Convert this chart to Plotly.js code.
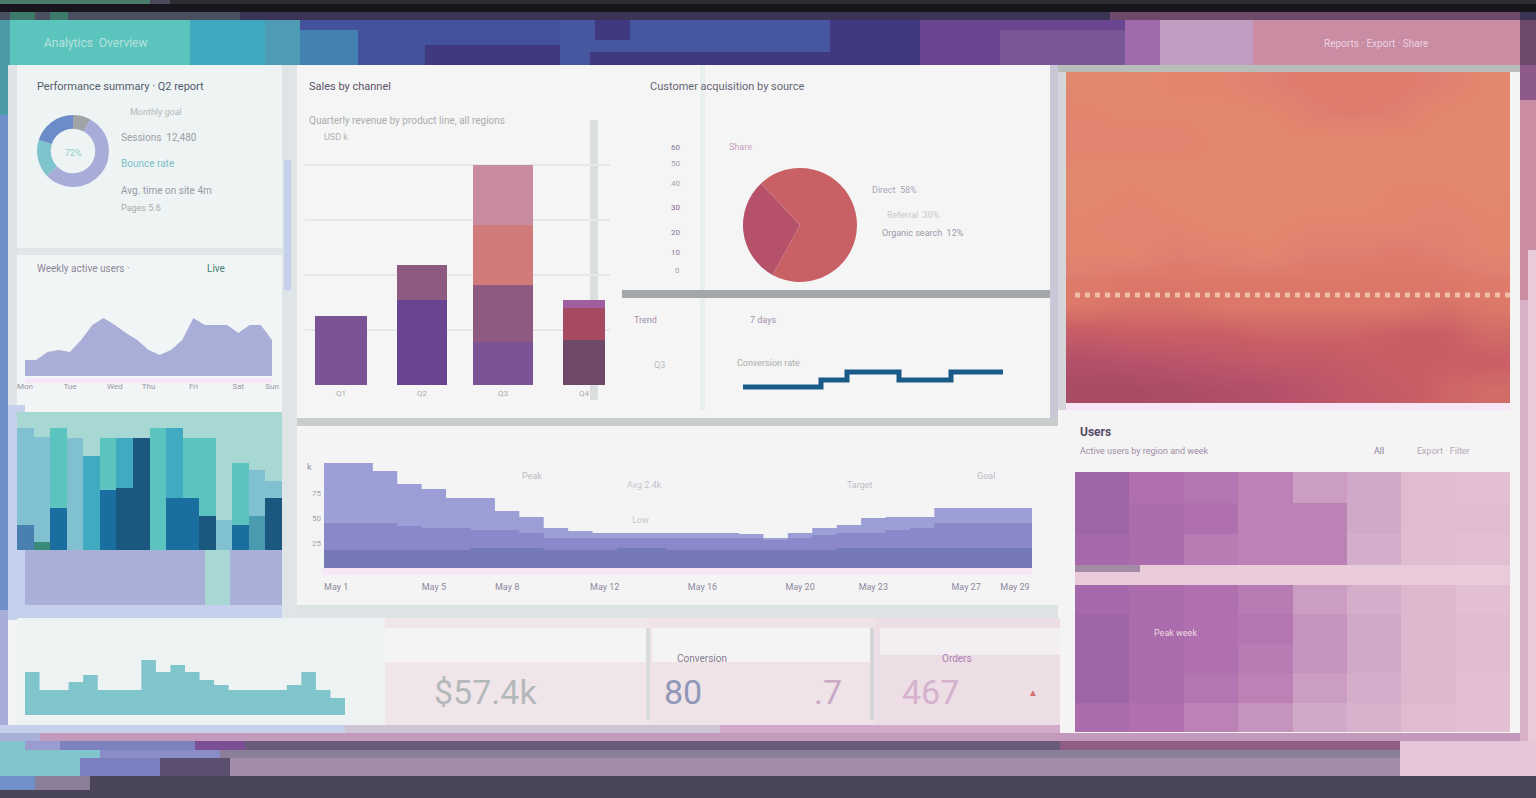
<!DOCTYPE html>
<html><head><meta charset="utf-8">
<script src="https://cdn.plot.ly/plotly-3.0.1.min.js"></script>
<style>html,body{margin:0;padding:0;background:#f4f4f4;overflow:hidden}#chart{width:1536px;height:798px}</style>
</head><body><div id="chart"></div>
<script>
// ---------------- DATA ----------------
const donutLabels = ['Other', 'Returning', 'Referral', 'New'];
const donutValues = [8, 55, 17, 20];

const weekDays = ['Mon', 'Tue', 'Wed', 'Thu', 'Fri', 'Sat', 'Sun'];
const weeklyUsers = [16,16,24,26,24,36,51,58,51,43,36,26,21,26,36,58,51,51,51,43,51,51,36];

const weeks = ['W1','W2','W3','W4','W5','W6','W7','W8','W9','W10','W11','W12','W13','W14','W15','W16'];
const sessionsTotal = [122,113,122,112,94,112,112,112,122,122,112,112,30,87,80,69];
const sessionsNew   = [25,8,42,0,0,60,62,0,0,52,52,34,0,25,34,52];

const quarters = ['Q1','Q2','Q3','Q4'];
const salesOnline    = [69, 85, 43, 45];
const salesRetail    = [0, 35, 57, 32];
const salesWholesale = [0, 0, 60, 8];
const salesPartners  = [0, 0, 60, 0];

const sourceLabels = ['Direct', 'Referral', 'Organic search'];
const sourceValues = [58, 30, 12];

const convPeriods = ['D1','D2','D3','D4','D5','D6','D7','D8','D9','D10','D11'];
const convRate = [5,5,5,12,20,20,12,12,20,20,20];

const trafficDays = ['May 1','May 5','May 8','May 12','May 16','May 20','May 23','May 27','May 29'];
const trafficTotal = [105,105,97,84,79,70,70,57,51,40,37,35,35,35,35,35,35,34,30,35,40,43,50,51,51,60,60,60,60,60];
const trafficMid   = [45,45,45,42,40,40,38,38,35,30,30,30,30,30,30,30,30,30,28,30,33,35,35,38,40,45,45,45,45,45];
const trafficLow   = [18,18,18,18,18,18,20,20,20,18,18,18,20,20,18,18,18,18,18,18,18,20,20,20,20,20,20,20,20,20];

const dailyVisits = [43,25,25,33,40,25,25,25,55,43,50,43,35,30,25,25,25,25,30,43,25,17,17];

const forecastZ = [
  [0.05,0.05,0.10,0.10,0.20,0.25,0.25,0.25,0.20,0.05],
  [0.10,0.05,0.05,0.05,0.05,0.20,0.25,0.20,0.05,0.05],
  [0.15,0.15,0.15,0.05,0.05,0.05,0.05,0.05,0.05,0.05],
  [0.05,0.05,0.05,0.05,0.05,0.05,0.05,0.05,0.05,0.05],
  [0.05,0.10,0.05,0.05,0.05,0.05,0.05,0.10,0.10,0.05],
  [0.10,0.15,0.10,0.05,0.05,0.10,0.10,0.10,0.15,0.10],
  [0.10,0.10,0.20,0.15,0.10,0.20,0.20,0.25,0.20,0.10],
  [0.25,0.30,0.30,0.30,0.30,0.30,0.30,0.30,0.30,0.25],
  [0.30,0.35,0.35,0.30,0.30,0.30,0.30,0.30,0.35,0.30],
  [0.55,0.50,0.50,0.50,0.45,0.45,0.45,0.50,0.50,0.40],
  [0.80,0.75,0.70,0.65,0.60,0.60,0.55,0.50,0.50,0.50],
  [0.95,0.95,0.90,0.85,0.80,0.70,0.60,0.55,0.45,0.40]
];
const usersZ1 = [
  [1.00,0.85,0.80,0.70,0.55,0.50,0.30,0.25],
  [1.00,0.90,0.85,0.70,0.70,0.50,0.30,0.30],
  [0.95,0.90,0.75,0.70,0.70,0.45,0.30,0.25]
];
const usersZ2 = [
  [0.95,0.90,0.85,0.75,0.55,0.45,0.35,0.25],
  [1.00,0.90,0.85,0.80,0.60,0.50,0.35,0.30],
  [1.00,0.90,0.85,0.75,0.60,0.50,0.35,0.30],
  [1.00,0.90,0.80,0.70,0.55,0.45,0.35,0.25],
  [0.90,0.85,0.70,0.60,0.50,0.40,0.30,0.25]
];

// ---------------- HELPERS ----------------
const W = 1536, H = 798;
const dx = (a, b) => [a / W, b / W];
const dy = (top, bottom) => [1 - bottom / H, 1 - top / H];
const idx = arr => arr.map((_, i) => i);
const hidden = (domain, range, extra) => Object.assign({domain, range, visible: false, fixedrange: true}, extra || {});

// decorative panel blocks (layout, px): x0,y0,x1,y1,color
const blocks = [
  [0,0,1536,4,'#2c2e34'],[0,0,150,4,'#4a7a6a'],[150,0,170,4,'#4a4a5a'],
  [0,4,1536,12,'#18161c'],
  [0,12,1536,20,'#3b3456'],[0,12,240,20,'#4a5060'],[10,12,35,20,'#3e7a6a'],[50,12,68,20,'#3e7a6a'],[1110,12,1520,20,'#6e4a6a'],
  [0,20,1536,65,'#44529e'],
  [0,20,10,65,'#4a9aa8'],[10,20,190,65,'#5bc4bd'],[190,20,265,65,'#3faabf'],[265,20,300,65,'#4d9cb4'],
  [300,30,358,65,'#4382b0'],[425,45,560,65,'#3f3a80'],[560,20,830,65,'#4656a0'],
  [595,20,630,40,'#3f3a80'],[590,52,840,65,'#3f3a80'],[830,20,920,65,'#3f3a80'],[920,20,1050,65,'#6a4592'],
  [1050,20,1125,65,'#6a4592'],[1000,30,1125,65,'#7a5898'],[1125,20,1160,65,'#a06aac'],[1160,20,1253,65,'#c09cc0'],[1253,20,1520,65,'#c98ca2'],[1520,20,1536,65,'#6e4a6a'],
  [0,65,8,115,'#4a9aa8'],[0,115,8,610,'#6e90c8'],[0,610,8,740,'#a8acd8'],
  [8,65,17,620,'#dde3e6'],
  [17,66,282,248,'#eef3f3'],[17,248,282,255,'#dfe5e8'],[17,255,282,405,'#f2f5f5'],
  [8,405,25,620,'#c4d0ec'],
  [17,412,282,550,'#a8d8d4'],
  [25,550,205,605,'#a9b0d8'],[205,550,230,605,'#a8d8d4'],[230,550,282,605,'#a9b0d8'],
  [8,605,297,618,'#c4d0ec'],
  [282,65,297,620,'#dfe4e6'],[284,160,291,290,'#c4d0ec'],
  [297,65,1050,418,'#f5f5f5'],[1050,65,1058,420,'#cbc6d6'],[297,418,1058,426,'#c9cdcc'],
  [590,120,598,400,'#dadede'],[700,65,705,410,'#e9eeee'],[622,290,1050,298,'#a3a7aa'],
  [297,605,1058,618,'#dde2e4'],
  [322,568,1032,575,'#f7e6f7'],[25,378,272,383,'#f7e6f7'],
  [17,618,385,725,'#edf3f3'],[0,725,345,741,'#c4d0ec'],
  [385,618,650,725,'#f0e6ea'],[385,628,650,662,'#f4f4f4'],
  [650,618,875,725,'#efe3e8'],[652,628,870,662,'#f4f4f4'],
  [875,618,1060,725,'#eddde4'],[880,628,1060,655,'#f3eef2'],
  [646,628,650,720,'#d8dcdc'],[870,628,874,720,'#d4d4da'],
  [345,725,1060,733,'#cfc4d4'],[720,725,1060,733,'#d4aacb'],
  [0,733,40,741,'#a9b0d8'],[40,733,1536,741,'#c39abb'],
  [0,741,1536,750,'#6a5a7a'],[0,741,110,750,'#80c4cc'],[25,741,60,750,'#9a9ccf'],[60,741,195,750,'#7b82bd'],[195,741,245,750,'#7a4f94'],[1060,741,1400,750,'#8f5c84'],
  [0,750,1536,758,'#8a7e98'],[0,750,100,758,'#80c4cc'],[100,750,220,758,'#8a8cc8'],
  [0,758,1536,776,'#a28ca9'],[0,758,80,776,'#80c4cc'],[80,758,160,776,'#7a80c0'],[160,758,230,776,'#5c4e6e'],
  [1400,741,1536,776,'#e4c6d8'],
  [0,776,1536,798,'#4a4657'],[0,776,35,790,'#7090c8'],[35,776,90,790,'#8a7e98'],
  [1058,65,1520,72,'#b9bdba'],[1058,72,1066,410,'#d4d6da'],[1510,72,1520,410,'#f4f4f4'],
  [1520,65,1536,100,'#8e5a8a'],[1520,100,1536,300,'#c98ca2'],[1520,300,1536,741,'#d8b0c8'],[1528,250,1536,741,'#e8cad8'],
  [1066,403,1510,410,'#f6e6f6'],
  [1060,410,1520,725,'#f4f4f4'],
  [1075,565,1510,585,'#e8cad8'],[1075,565,1140,572,'#a38ba6'],
  [1075,117,1270,124,'#f1b9a1'],[1305,117,1400,124,'#f1b9a1'],[1085,160,1135,167,'#f1b9a1'],[1150,160,1230,167,'#eba68a'],
  [1494,152,1500,272,'#f2bca6']
];
const shapes = blocks.map(b => ({type:'rect', xref:'paper', yref:'paper', layer:'below',
  x0:b[0]/W, x1:b[2]/W, y0:1-b[3]/H, y1:1-b[1]/H, fillcolor:b[4], line:{width:0}}));
shapes.push({type:'line', xref:'paper', yref:'paper', x0:1075/W, x1:1510/W, y0:1-295/H, y1:1-295/H,
  line:{color:'#f2bca6', width:5, dash:'dot'}, layer:'above'});

// text labels (px): text, x, y, color, size, anchor, bold
const labels = [
  ['Analytics  Overview', 42, 43, '#b6e2de', 12],
  ['Reports · Export · Share', 1322, 43, '#ecd2e2', 10],
  ['Performance summary · Q2 report', 35, 86, '#545c6c', 11],
  ['Monthly goal', 128, 112, '#b4bab8', 9],
  ['Sessions  12,480', 119, 138, '#9aa0a4', 10],
  ['Bounce rate', 119, 163, '#7cbfca', 10],
  ['Avg. time on site 4m', 119, 190, '#9c9aa8', 10],
  ['Pages 5.6', 119, 208, '#a8acac', 9],
  ['72%', 73, 153, '#8fcfca', 9, 'center'],
  ['Weekly active users ·', 35, 268, '#8c889a', 10],
  ['Live', 205, 268, '#3f7f70', 10],
  ['Sales by channel', 307, 86, '#5a5468', 11],
  ['Customer acquisition by source', 648, 86, '#666674', 11],
  ['Quarterly revenue by product line, all regions', 307, 120, '#a9adab', 10],
  ['USD k', 322, 137, '#b0b4b0', 9],
  ['Share', 727, 147, '#c8a0c4', 9],
  ['60', 682, 147, '#8a7898', 8, 'right'], ['50', 682, 163, '#a8a4b0', 8, 'right'], ['40', 682, 183, '#a8a4b0', 8, 'right'],
  ['30', 682, 207, '#8a6090', 8, 'right'], ['20', 682, 233, '#8a7898', 8, 'right'], ['10', 682, 252, '#8a7898', 8, 'right'],
  ['0', 682, 270, '#a0a4a0', 8, 'right'],
  ['Direct  58%', 870, 190, '#aaa6b8', 9],
  ['Referral  30%', 885, 215, '#c4c8cc', 9],
  ['Organic search  12%', 880, 233, '#9c9aaa', 9],
  ['Trend', 632, 320, '#a08fa8', 9], ['7 days', 748, 320, '#a08fa8', 9],
  ['Q3', 652, 365, '#b8bcb8', 9], ['Conversion rate', 735, 363, '#aaaea8', 9],
  ['k', 305, 467, '#938fa5', 9],
  ['Peak', 520, 476, '#c0bcc8', 9], ['Avg 2.4k', 625, 485, '#c8c4d0', 9], ['Low', 630, 520, '#c8c4d0', 9],
  ['Target', 845, 485, '#c0bcc8', 9], ['Goal', 975, 476, '#c0bcc8', 9],
  ['Conversion', 675, 658, '#877a90', 10],
  ['Orders', 940, 658, '#ad80b5', 10],
  ['$57.4k', 432, 692, '#b3b9bb', 34],
  ['80', 662, 692, '#8f98b8', 34],
  ['.7', 812, 692, '#c9a9c6', 34],
  ['467', 900, 692, '#d4b2cd', 34],
  ['▲', 1026, 692, '#d27070', 10],
  ['Users', 1078, 432, '#584a68', 12, 'left', true],
  ['Active users by region and week', 1078, 451, '#a08aa8', 9],
  ['All', 1372, 451, '#8e8098', 9], ['Export · Filter', 1415, 451, '#b8a8b8', 9],
  ['Peak week', 1152, 633, '#f0dae4', 9]
];
const annotations = labels.map(l => ({xref:'paper', yref:'paper', x:l[1]/W, y:1-l[2]/H,
  xanchor: l[5] || 'left', yanchor:'middle', showarrow:false,
  text: l[6] ? '<b>' + l[0] + '</b>' : l[0], font:{size:l[4], color:l[3]}}));

// ---------------- TRACES ----------------
const cum2 = salesOnline.map((v, i) => v + salesRetail[i]);
const cum3 = cum2.map((v, i) => v + salesWholesale[i]);
const barW = [0.63, 0.62, 0.74, 0.52];

const traces = [
  {type:'scatter', x: idx(weeklyUsers), y: weeklyUsers, xaxis:'x', yaxis:'y', mode:'lines',
   fill:'tozeroy', fillcolor:'#a8aed8', line:{width:0}, hoverinfo:'skip'},
  {type:'bar', x: weeks, y: sessionsTotal, xaxis:'x2', yaxis:'y2', width:1,
   marker:{color:['#80c0d0','#80c0d0','#5cc4be','#80c0d0','#40aac0','#5cc4be','#40aac0','#1a5880','#5cc4be','#40aac0','#5cc4be','#5cc4be','#80c0d0','#5cc4be','#80c0d0','#80c0d0'], line:{width:0}}},
  {type:'bar', x: weeks, y: sessionsNew, xaxis:'x2', yaxis:'y2', width:1,
   marker:{color:['#4a80b0','#3a8a7a','#1a6ea0','#1a6ea0','#1a6ea0','#1a6ea0','#1a5880','#1a5880','#4a9ab0','#1a6ea0','#1a6ea0','#1a5880','#4a9ab0','#1a6ea0','#4a9ab0','#1a5880'], line:{width:0}}},
  {type:'bar', name:'Online', x: quarters, y: salesOnline, xaxis:'x3', yaxis:'y3', width: barW,
   marker:{color:['#7a5494','#6a4490','#7a5494','#6e4a68'], line:{width:0}}},
  {type:'bar', name:'Retail', x: quarters, y: salesRetail, base: salesOnline, xaxis:'x3', yaxis:'y3', width: barW,
   marker:{color:['#8f5a80','#8f5a80','#8f5a80','#a54a60'], line:{width:0}}},
  {type:'bar', name:'Wholesale', x: quarters, y: salesWholesale, base: cum2, xaxis:'x3', yaxis:'y3', width: barW,
   marker:{color:['#d07a7a','#d07a7a','#d07a7a','#a060a0'], line:{width:0}}},
  {type:'bar', name:'Partners', x: quarters, y: salesPartners, base: cum3, xaxis:'x3', yaxis:'y3', width: barW,
   marker:{color:'#c98b9e', line:{width:0}}},
  {type:'pie', labels: sourceLabels, values: sourceValues, domain:{x: dx(743, 857), y: dy(168, 282)},
   sort:false, direction:'clockwise', rotation:0, textinfo:'none', hoverinfo:'skip',
   marker:{colors:['#c96066','#b5526a','#c96066'], line:{width:0}}},
  {type:'pie', labels: donutLabels, values: donutValues, hole:0.62, domain:{x: dx(37, 109), y: dy(115, 187)},
   sort:false, direction:'clockwise', rotation:0, textinfo:'none', hoverinfo:'skip',
   marker:{colors:['#a0a4a8','#a8acd8','#7ec4cc','#6b8cc8'], line:{width:0}}},
  {type:'scatter', x: convPeriods, y: convRate, xaxis:'x4', yaxis:'y4', mode:'lines',
   line:{color:'#1a5a88', width:5, shape:'hv'}, hoverinfo:'skip'},
  {type:'scatter', x: idx(trafficTotal), y: trafficTotal, xaxis:'x5', yaxis:'y5', mode:'lines',
   fill:'tozeroy', fillcolor:'#9c9ed6', line:{width:0, shape:'hv'}, hoverinfo:'skip'},
  {type:'scatter', x: idx(trafficMid), y: trafficMid, xaxis:'x5', yaxis:'y5', mode:'lines',
   fill:'tozeroy', fillcolor:'#8a88c8', line:{width:0, shape:'hv'}, hoverinfo:'skip'},
  {type:'scatter', x: idx(trafficLow), y: trafficLow, xaxis:'x5', yaxis:'y5', mode:'lines',
   fill:'tozeroy', fillcolor:'#7579b6', line:{width:0, shape:'hv'}, hoverinfo:'skip'},
  {type:'scatter', x: idx(dailyVisits), y: dailyVisits, xaxis:'x6', yaxis:'y6', mode:'lines',
   fill:'tozeroy', fillcolor:'#80c4cc', line:{width:0, shape:'hv'}, hoverinfo:'skip'},
  {type:'heatmap', z: forecastZ, xaxis:'x7', yaxis:'y7', zsmooth:'best', showscale:false, hoverinfo:'skip',
   zmin:0, zmax:1,
   colorscale:[[0,'#e38a6e'],[0.2,'#e08070'],[0.3,'#dc7868'],[0.5,'#c95e66'],[0.75,'#b6526a'],[1,'#a44a62']]},
  {type:'heatmap', z: usersZ1, xaxis:'x8', yaxis:'y8', showscale:false, hoverinfo:'skip', zmin:0, zmax:1,
   colorscale:[[0,'#ecd0dc'],[0.3,'#e0bcd0'],[0.5,'#d0a8c8'],[0.65,'#c088b8'],[0.85,'#b070b0'],[1,'#a064a8']]},
  {type:'heatmap', z: usersZ2, xaxis:'x9', yaxis:'y9', showscale:false, hoverinfo:'skip', zmin:0, zmax:1,
   colorscale:[[0,'#ecd0dc'],[0.3,'#e0bcd0'],[0.5,'#d0a8c8'],[0.65,'#c088b8'],[0.85,'#b070b0'],[1,'#a064a8']]}
];

const tickAxis = (domain, range, extra) => Object.assign({domain, range, fixedrange:true, showgrid:false,
  zeroline:false, showline:false, ticks:'', tickfont:{size:8, color:'#9a96a8'}}, extra);

const layout = {
  width: W, height: H, margin:{l:0, r:0, t:0, b:0},
  paper_bgcolor:'#f4f4f4', plot_bgcolor:'rgba(0,0,0,0)',
  font:{family:'Roboto, "Open Sans", sans-serif'},
  showlegend:false, hovermode:false, barmode:'overlay', bargap:0,
  xaxis: tickAxis(dx(25, 272), [0, 22], {anchor:'y', tickmode:'array', tickvals:[0,4,8,11,15,19,22],
    ticktext: weekDays, ticklabelstandoff: 4}),
  yaxis: hidden(dy(300, 376), [0, 76], {anchor:'x'}),
  xaxis2: hidden(dx(17, 282), [-0.5, 15.5], {anchor:'y2', type:'category'}),
  yaxis2: hidden(dy(412, 550), [0, 138], {anchor:'x2'}),
  xaxis3: tickAxis(dx(305, 610), [-0.444, 3.32], {anchor:'y3', type:'category', ticklabelstandoff: 2,
    tickfont:{size:8, color:'#a9adab'}}),
  yaxis3: tickAxis(dy(150, 385), [0, 235], {anchor:'x3', showticklabels:false, showgrid:true,
    gridcolor:'#e5e8e8', gridwidth:2, dtick:55}),
  xaxis4: hidden(dx(743, 1003), [0, 10], {anchor:'y4', type:'category'}),
  yaxis4: hidden(dy(365, 392), [0, 27], {anchor:'x4'}),
  xaxis5: tickAxis(dx(324, 1032), [0, 29], {anchor:'y5', tickmode:'array',
    tickvals:[0.5,4.5,7.5,11.5,15.5,19.5,22.5,26.3,28.3], ticktext: trafficDays, ticklabelstandoff: 12,
    tickfont:{size:9, color:'#8e88a0'}}),
  yaxis5: tickAxis(dy(450, 568), [0, 118], {anchor:'x5', tickmode:'array', tickvals:[25,50,75],
    ticktext:['25','50','75'], tickfont:{size:8, color:'#a4a4ac'}, ticklabelstandoff: 2}),
  xaxis6: hidden(dx(25, 345), [0, 22], {anchor:'y6'}),
  yaxis6: hidden(dy(655, 715), [0, 60], {anchor:'x6'}),
  xaxis7: hidden(dx(1066, 1510), [-0.5, 9.5], {anchor:'y7'}),
  yaxis7: hidden(dy(72, 403), [11.5, -0.5], {anchor:'x7'}),
  xaxis8: hidden(dx(1075, 1510), [-0.5, 7.5], {anchor:'y8'}),
  yaxis8: hidden(dy(472, 565), [2.5, -0.5], {anchor:'x8'}),
  xaxis9: hidden(dx(1075, 1510), [-0.5, 7.5], {anchor:'y9'}),
  yaxis9: hidden(dy(585, 732), [4.5, -0.5], {anchor:'x9'}),
  shapes, annotations
};

Plotly.newPlot('chart', traces, layout, {displayModeBar:false, staticPlot:true});
</script>
</body></html>
